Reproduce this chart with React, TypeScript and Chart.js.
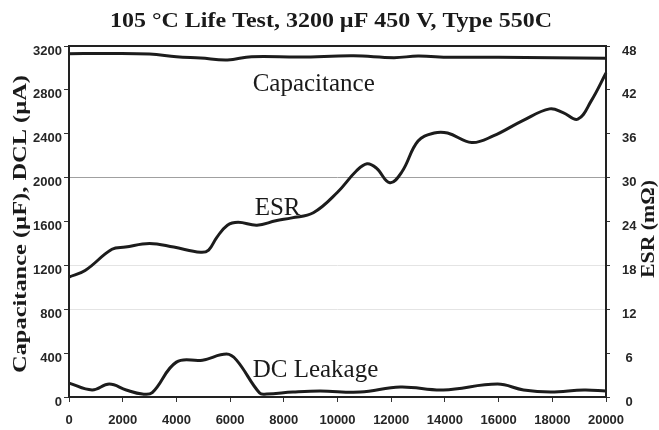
import React, { useEffect, useRef } from "react";
import { Chart, registerables } from "chart.js";

Chart.register(...registerables);

const titleText = "105 °C Life Test, 3200 µF 450 V, Type 550C";
const leftAxisTitle = "Capacitance (µF), DCL (µA)";
const rightAxisTitle = "ESR (mΩ)";

// Capacitance (µF) vs hours
const capHours = [0, 1500, 3000, 4000, 4900, 5900, 6800, 8600, 10600, 12100, 13000, 14200, 16000, 18000, 20000];
const capValues = [3130, 3132, 3127, 3103, 3090, 3073, 3103, 3100, 3110, 3094, 3108, 3097, 3098, 3092, 3088];

// ESR (mΩ) vs hours
const esrHours = [0, 600, 1600, 2100, 3000, 3900, 4900, 5200, 5500, 5900, 6300, 7000, 7700, 8300, 9100, 10000, 10700, 11100, 11450, 11950, 12400, 13000, 13600, 14100, 15000, 15800, 16900, 17900, 18400, 18950, 19450, 20000];
const esrValues = [16.4, 17.3, 20.2, 20.5, 21.0, 20.5, 19.8, 20.1, 21.8, 23.5, 23.9, 23.5, 24.1, 24.5, 25.2, 28.0, 30.9, 31.9, 31.3, 29.3, 30.8, 35.0, 36.1, 36.1, 34.8, 35.7, 37.8, 39.4, 38.9, 38.0, 40.5, 44.3];

// DC leakage (µA) vs hours
const dclHours = [0, 860, 1500, 2130, 2730, 3100, 4000, 4970, 5870, 6240, 7100, 7360, 8340, 9350, 10840, 12340, 13940, 15960, 16930, 17940, 19180, 20000];
const dclValues = [127, 64, 118, 64, 27, 40, 318, 336, 391, 336, 36, 27, 45, 55, 45, 91, 64, 118, 64, 45, 64, 55];

// Tick labels
const xTicks = [0, 2000, 4000, 6000, 8000, 10000, 12000, 14000, 16000, 18000, 20000];
const leftTicks = [0, 400, 800, 1200, 1600, 2000, 2400, 2800, 3200];
const rightTicks = [0, 6, 12, 18, 24, 30, 36, 42, 48];

// In-chart series labels (hours, left-axis value)
const annotationTexts = ["Capacitance", "ESR", "DC Leakage"];
const annotationHours = [6840, 6915, 6840];
const annotationValues = [2790, 1655, 182];

const SERIF = "'Liberation Serif', 'Times New Roman', serif";
const SANS = "'Liberation Sans', Arial, sans-serif";
const LINE = "#1c1c1c";

function drawFitted(ctx: CanvasRenderingContext2D, text: string, cx: number, cy: number, font: string, targetWidth: number, rotation: number, baseline: CanvasTextBaseline) {
  ctx.save();
  ctx.font = font;
  const w = ctx.measureText(text).width;
  ctx.translate(cx, cy);
  ctx.rotate(rotation);
  ctx.scale(targetWidth / w, 1);
  ctx.textAlign = "center";
  ctx.textBaseline = baseline;
  ctx.fillStyle = "#1a1a1a";
  ctx.fillText(text, 0, 0);
  ctx.restore();
}

const textPlugin = {
  id: "textsAndFrame",
  afterDraw(chart: any) {
    const { ctx, chartArea, scales } = chart;
    ctx.save();
    ctx.strokeStyle = "#222";
    ctx.lineWidth = 2;
    ctx.strokeRect(chartArea.left, chartArea.top, chartArea.right - chartArea.left, chartArea.bottom - chartArea.top);
    ctx.fillStyle = "#1a1a1a";
    ctx.font = `25px ${SERIF}`;
    ctx.textAlign = "left";
    ctx.textBaseline = "alphabetic";
    annotationTexts.forEach((t, i) => {
      ctx.fillText(t, scales.x.getPixelForValue(annotationHours[i]), scales.y.getPixelForValue(annotationValues[i]));
    });
    ctx.restore();
    drawFitted(ctx, titleText, 331, 27, `bold 22px ${SERIF}`, 442, 0, "alphabetic");
    drawFitted(ctx, leftAxisTitle, 21, 224, `bold 19px ${SERIF}`, 298, -Math.PI / 2, "middle");
    drawFitted(ctx, rightAxisTitle, 649, 229, `bold 19px ${SERIF}`, 98, -Math.PI / 2, "middle");
  },
};

function toPoints(xs: number[], ys: number[]) {
  return xs.map((x, i) => ({ x, y: ys[i] }));
}

export default function App() {
  const ref = useRef<HTMLCanvasElement | null>(null);
  useEffect(() => {
    if (!ref.current) return;
    const lineCommon = {
      borderColor: LINE,
      borderWidth: 3,
      pointRadius: 0,
      tension: 0.4,
      fill: false,
      clip: false as any,
    };
    const chart = new Chart(ref.current, {
      type: "line",
      data: {
        datasets: [
          { ...lineCommon, label: "Capacitance", data: toPoints(capHours, capValues), yAxisID: "y" },
          { ...lineCommon, label: "ESR", data: toPoints(esrHours, esrValues), yAxisID: "y2" },
          { ...lineCommon, label: "DC Leakage", data: toPoints(dclHours, dclValues), yAxisID: "y" },
        ],
      },
      options: {
        responsive: false,
        animation: false,
        layout: { padding: { top: 46, left: 0, right: 0, bottom: 0 } },
        plugins: { legend: { display: false }, title: { display: false }, tooltip: { enabled: false } },
        scales: {
          x: {
            type: "linear",
            min: 0,
            max: 20000,
            afterBuildTicks: (s: any) => { s.ticks = xTicks.map((v) => ({ value: v })); },
            afterFit: (s: any) => { s.height = 33; },
            border: { display: false },
            grid: { drawOnChartArea: false, tickLength: 5, tickColor: "#333", lineWidth: 1 },
            ticks: { color: "#262626", font: { family: SANS, size: 13, weight: "bold" }, padding: 11, maxRotation: 0, autoSkip: false, callback: (v: any) => String(v) },
          },
          y: {
            type: "linear",
            position: "left",
            min: 0,
            max: 3200,
            afterBuildTicks: (s: any) => { s.ticks = leftTicks.map((v) => ({ value: v })); },
            afterFit: (s: any) => { s.width = 69; },
            border: { display: false },
            grid: {
              drawOnChartArea: true,
              tickLength: 5,
              tickColor: "#333",
              lineWidth: 1,
              color: (c: any) => {
                const v = c.tick && c.tick.value;
                if (v === 2000) return "#a0a0a0";
                if (v === 800 || v === 1200) return "#e4e4e4";
                return "rgba(0,0,0,0)";
              },
            },
            ticks: { color: "#262626", font: { family: SANS, size: 13, weight: "bold" }, padding: 2, labelOffset: 5, autoSkip: false, callback: (v: any) => String(v) },
          },
          y2: {
            type: "linear",
            position: "right",
            min: 0,
            max: 48,
            afterBuildTicks: (s: any) => { s.ticks = rightTicks.map((v) => ({ value: v })); },
            afterFit: (s: any) => { s.width = 53; },
            border: { display: false },
            grid: { drawOnChartArea: false, tickLength: 4, tickColor: "#333", lineWidth: 1 },
            ticks: { color: "#262626", font: { family: SANS, size: 13, weight: "bold" }, padding: 12, labelOffset: 5, crossAlign: "center", autoSkip: false, callback: (v: any) => String(v) },
          },
        },
      },
      plugins: [textPlugin],
    } as any);
    return () => chart.destroy();
  }, []);
  return (
    <div style={{ position: "absolute", left: 0, top: 0, width: 659, height: 430, background: "#fff" }}>
      <canvas ref={ref} width={659} height={430} style={{ display: "block" }} />
    </div>
  );
}
